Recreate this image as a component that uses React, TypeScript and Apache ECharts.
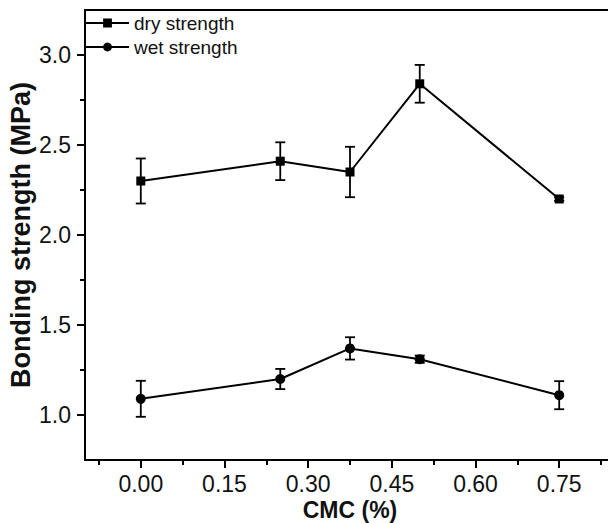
import React, { useEffect, useRef } from "react";
import * as echarts from "echarts";

const cmc = [0.0, 0.25, 0.375, 0.5, 0.75];
const dryMean = [2.3, 2.41, 2.35, 2.84, 2.2];
const dryErr = [0.125, 0.105, 0.14, 0.105, 0.01];
const wetMean = [1.09, 1.2, 1.37, 1.31, 1.11];
const wetErr = [0.1, 0.056, 0.062, 0.02, 0.078];

const xMajorTicks = [0, 0.15, 0.3, 0.45, 0.6, 0.75];
const xMinorTicks = [-0.075, 0.075, 0.225, 0.375, 0.525, 0.675, 0.825];
const yMajorTicks = [1.0, 1.5, 2.0, 2.5, 3.0];
const yMinorTicks = [1.25, 1.75, 2.25, 2.75];

const FONT = "Liberation Sans, Arial, sans-serif";

function errorSeries(mean: number[], err: number[]) {
  return {
    type: "custom",
    xAxisIndex: 0,
    yAxisIndex: 0,
    silent: true,
    z: 1,
    data: cmc.map((x, i) => [x, mean[i] - err[i], mean[i] + err[i]]),
    encode: { x: 0, y: [1, 2] },
    renderItem: (params: any, api: any) => {
      const x = api.value(0);
      const lo = api.coord([x, api.value(1)]);
      const hi = api.coord([x, api.value(2)]);
      const w = 5;
      const style = { stroke: "#000", lineWidth: 1.8 };
      return {
        type: "group",
        children: [
          { type: "line", shape: { x1: lo[0], y1: lo[1], x2: hi[0], y2: hi[1] }, style },
          { type: "line", shape: { x1: lo[0] - w, y1: lo[1], x2: lo[0] + w, y2: lo[1] }, style },
          { type: "line", shape: { x1: hi[0] - w, y1: hi[1], x2: hi[0] + w, y2: hi[1] }, style },
        ],
      };
    },
  };
}

export default function App() {
  const ref = useRef<HTMLDivElement>(null);
  useEffect(() => {
    if (!ref.current) return;
    const chart = echarts.init(ref.current, undefined, { renderer: "svg" });
    const axisCommon = {
      type: "value",
      splitLine: { show: false },
    };
    chart.setOption({
      animation: false,
      backgroundColor: "#fff",
      grid: {
        left: 85,
        top: 10,
        width: 530,
        height: 450,
        outerBoundsMode: "none",
        containLabel: false,
        show: false,
      },
      legend: {
        data: ["dry strength", "wet strength"],
        orient: "vertical",
        left: 85,
        top: 13,
        padding: 0,
        itemWidth: 43,
        itemHeight: 11,
        itemGap: 4,
        textStyle: { fontFamily: FONT, fontSize: 19, color: "#111", lineHeight: 20 },
      },
      xAxis: [
        {
          ...axisCommon,
          min: -0.1,
          max: 0.85,
          position: "bottom",
          name: "CMC (%)",
          nameLocation: "middle",
          nameGap: 50,
          nameMoveOverlap: false,
          nameTextStyle: {
            fontFamily: FONT,
            fontSize: 23,
            lineHeight: 23,
            fontWeight: "bold",
            color: "#111",
            verticalAlign: "middle",
          },
          axisLine: { show: true, onZero: false, lineStyle: { color: "#000", width: 2 } },
          axisTick: {
            show: true,
            customValues: xMajorTicks,
            length: 8,
            lineStyle: { color: "#000", width: 2 },
          },
          axisLabel: {
            customValues: xMajorTicks,
            formatter: (v: number) => v.toFixed(2),
            fontFamily: FONT,
            fontSize: 23,
            color: "#111",
            margin: 12,
          },
        },
        {
          ...axisCommon,
          min: -0.1,
          max: 0.85,
          position: "bottom",
          axisLine: { show: false, onZero: false },
          axisTick: {
            show: true,
            customValues: xMinorTicks,
            length: 5,
            lineStyle: { color: "#000", width: 2 },
          },
          axisLabel: { show: false },
        },
        {
          ...axisCommon,
          min: -0.1,
          max: 0.85,
          position: "top",
          axisLine: { show: true, onZero: false, lineStyle: { color: "#000", width: 2 } },
          axisTick: { show: false },
          axisLabel: { show: false },
        },
      ],
      yAxis: [
        {
          ...axisCommon,
          min: 0.75,
          max: 3.25,
          position: "left",
          name: "Bonding strength (MPa)",
          nameLocation: "middle",
          nameGap: 64,
          nameMoveOverlap: false,
          nameRotate: 90,
          nameTextStyle: {
            fontFamily: FONT,
            fontSize: 27,
            fontWeight: "bold",
            color: "#111",
            verticalAlign: "middle",
          },
          axisLine: { show: true, onZero: false, lineStyle: { color: "#000", width: 2 } },
          axisTick: {
            show: true,
            customValues: yMajorTicks,
            length: 8,
            lineStyle: { color: "#000", width: 2 },
          },
          axisLabel: {
            customValues: yMajorTicks,
            formatter: (v: number) => v.toFixed(1),
            fontFamily: FONT,
            fontSize: 23,
            color: "#111",
            margin: 14,
          },
        },
        {
          ...axisCommon,
          min: 0.75,
          max: 3.25,
          position: "left",
          axisLine: { show: false, onZero: false },
          axisTick: {
            show: true,
            customValues: yMinorTicks,
            length: 5,
            lineStyle: { color: "#000", width: 2 },
          },
          axisLabel: { show: false },
        },
      ],
      series: [
        errorSeries(dryMean, dryErr),
        errorSeries(wetMean, wetErr),
        {
          name: "dry strength",
          type: "line",
          data: cmc.map((x, i) => [x, dryMean[i]]),
          symbol: "rect",
          symbolSize: 9,
          z: 3,
          itemStyle: { color: "#000" },
          lineStyle: { color: "#000", width: 2 },
        },
        {
          name: "wet strength",
          type: "line",
          data: cmc.map((x, i) => [x, wetMean[i]]),
          symbol: "circle",
          symbolSize: 10,
          z: 3,
          itemStyle: { color: "#000" },
          lineStyle: { color: "#000", width: 2 },
        },
      ],
    });
    return () => chart.dispose();
  }, []);
  return (
    <div
      ref={ref}
      style={{ position: "absolute", left: 0, top: 0, width: 608, height: 523 }}
    />
  );
}
